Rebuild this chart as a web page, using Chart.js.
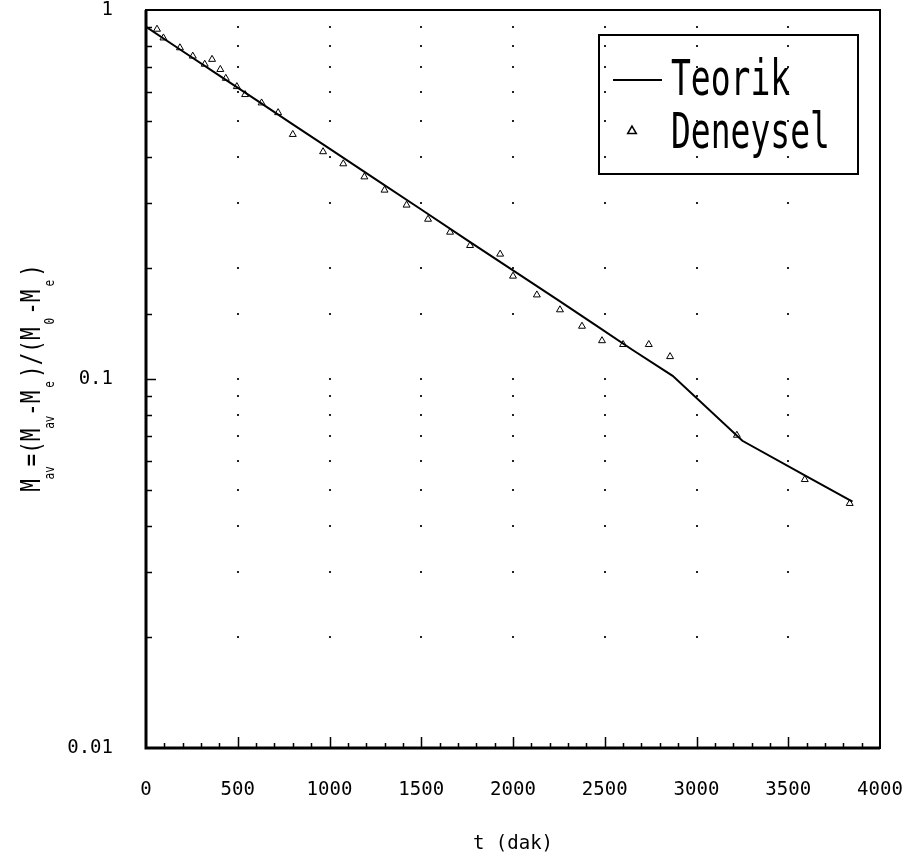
<!DOCTYPE html>
<html>
<head>
<meta charset="utf-8">
<title>Kuruma eğrisi</title>
<script src="https://cdn.jsdelivr.net/npm/chart.js@4.4.1/dist/chart.umd.min.js"></script>
<style>
  html, body { margin: 0; padding: 0; background: #fff; }
  canvas { display: block; }
</style>
</head>
<body>
<canvas id="chart" width="907" height="861"></canvas>
<script>
// Teorik model curve (t in dak, dimensionless moisture ratio)
const teorikT = [0, 200, 400, 600, 800, 1000, 1250, 1500, 1750, 2000, 2250, 2450, 2650, 2870, 3250, 3600, 3850];
const teorikM = [0.90, 0.773, 0.664, 0.571, 0.490, 0.421, 0.348, 0.288, 0.238, 0.197, 0.163, 0.140, 0.120, 0.102, 0.068, 0.0545, 0.0465];

// Deneysel measurements
const deneyT = [60, 95, 185, 255, 320, 360, 405, 435, 495, 540, 630, 720, 800, 965, 1075, 1190, 1300, 1420, 1537, 1657, 1766, 1930, 2000, 2130, 2256, 2376, 2485, 2600, 2740, 2856, 3220, 3590, 3835];
const deneyM = [0.887, 0.84, 0.79, 0.75, 0.713, 0.735, 0.69, 0.653, 0.62, 0.59, 0.56, 0.527, 0.46, 0.413, 0.383, 0.353, 0.325, 0.296, 0.271, 0.250, 0.230, 0.218, 0.19, 0.169, 0.154, 0.139, 0.127, 0.124, 0.124, 0.115, 0.0704, 0.0534, 0.046];

const xTickLabels = ['0', '500', '1000', '1500', '2000', '2500', '3000', '3500', '4000'];
const yTickLabels = ['0.01', '0.1', '1'];
const legendLabels = ['Teorik', 'Deneysel'];

const FONT = '"DejaVu Sans Mono", "Liberation Mono", monospace';
Chart.defaults.font.family = FONT;
Chart.defaults.color = '#000';

function isDecade(v) {
  const l = Math.log10(v);
  return Math.abs(l - Math.round(l)) < 1e-6;
}

// keep end labels from pushing the plot area inwards
function noEdgePadding(s) {
  s.paddingTop = 0;
  s.paddingBottom = 0;
  s.paddingLeft = 0;
  s.paddingRight = 0;
}

// Frame, inward tick marks, dotted grid, legend box and y title
const plotDecor = {
  id: 'plotDecor',
  beforeDatasetsDraw(chart) {
    const { ctx, scales: { x, y } } = chart;
    ctx.save();
    ctx.fillStyle = '#222';
    x.ticks.forEach(xt => {
      if (xt.value % 500 !== 0 || xt.value <= 0 || xt.value >= 4000) return;
      const px = x.getPixelForValue(xt.value);
      y.ticks.forEach(yt => {
        if (yt.value <= 0.01 || yt.value >= 1) return;
        const py = y.getPixelForValue(yt.value);
        ctx.fillRect(Math.round(px) - 1, Math.round(py) - 1, 2, 2);
      });
    });
    ctx.restore();
  },
  afterDatasetsDraw(chart) {
    const { ctx, chartArea: a, scales: { x, y } } = chart;
    ctx.save();
    ctx.strokeStyle = '#000';

    // frame
    ctx.lineWidth = 2;
    ctx.strokeRect(a.left, a.top, a.right - a.left, a.bottom - a.top);
    ctx.lineWidth = 3;
    ctx.beginPath();
    ctx.moveTo(a.left, a.top);
    ctx.lineTo(a.left, a.bottom);
    ctx.lineTo(a.right, a.bottom);
    ctx.stroke();

    // tick marks pointing into the plot
    ctx.lineWidth = 1.5;
    ctx.beginPath();
    x.ticks.forEach(t => {
      if (t.value <= 0 || t.value >= 4000) return;
      const px = Math.round(x.getPixelForValue(t.value)) + 0.5;
      const len = t.value % 500 === 0 ? 11 : 5;
      ctx.moveTo(px, a.bottom);
      ctx.lineTo(px, a.bottom - len);
    });
    y.ticks.forEach(t => {
      if (t.value <= 0.01 || t.value >= 1) return;
      const py = Math.round(y.getPixelForValue(t.value)) + 0.5;
      const len = isDecade(t.value) ? 10 : 6;
      ctx.moveTo(a.left, py);
      ctx.lineTo(a.left + len, py);
    });
    ctx.stroke();

    // legend
    ctx.lineWidth = 2;
    ctx.strokeRect(599, 35, 259, 139);
    ctx.beginPath();
    ctx.moveTo(613, 80);
    ctx.lineTo(662, 80);
    ctx.stroke();
    ctx.lineWidth = 1.5;
    ctx.fillStyle = 'rgba(0,0,0,0)';
    Chart.helpers.drawPoint(ctx, { pointStyle: 'triangle', radius: 5, rotation: 0, borderWidth: 1.5 }, 632, 131);
    ctx.fillStyle = '#000';
    ctx.font = '33px ' + FONT;
    ctx.textAlign = 'left';
    ctx.textBaseline = 'alphabetic';
    [[legendLabels[0], 95], [legendLabels[1], 148]].forEach(([txt, base]) => {
      ctx.save();
      ctx.translate(671, base);
      ctx.scale(1, 1.5);
      ctx.fillText(txt, 0, 0);
      ctx.restore();
    });

    // y title with subscripts
    ctx.save();
    ctx.translate(40, 378);
    ctx.rotate(-Math.PI / 2);
    ctx.scale(1, 1.3);
    ctx.font = '21px ' + FONT;
    const main = 'M =(M -M )/(M -M )';
    const w = ctx.measureText(main).width;
    const cw = w / main.length;
    const x0 = -w / 2;
    ctx.textAlign = 'left';
    ctx.fillText(main, x0, 0);
    ctx.font = '11px ' + FONT;
    ctx.textAlign = 'center';
    [[1, 'av'], [5, 'av'], [8, 'e'], [13, '0'], [16, 'e']].forEach(([i, s]) => {
      ctx.fillText(s, x0 + (i + 0.5) * cw, 11);
    });
    ctx.restore();

    ctx.restore();
  }
};

new Chart(document.getElementById('chart'), {
  type: 'scatter',
  data: {
    datasets: [
      {
        label: legendLabels[0],
        data: teorikT.map((t, i) => ({ x: t, y: teorikM[i] })),
        showLine: true,
        borderColor: '#000',
        borderWidth: 2,
        pointRadius: 0,
        tension: 0
      },
      {
        label: legendLabels[1],
        data: deneyT.map((t, i) => ({ x: t, y: deneyM[i] })),
        showLine: false,
        pointStyle: 'triangle',
        pointRadius: 4,
        borderColor: '#000',
        borderWidth: 1,
        backgroundColor: 'rgba(0,0,0,0)'
      }
    ]
  },
  options: {
    responsive: false,
    devicePixelRatio: 1,
    animation: false,
    layout: { padding: { top: 10, right: 27, left: 0, bottom: 0 } },
    plugins: {
      legend: { display: false },
      tooltip: { enabled: false }
    },
    scales: {
      x: {
        type: 'linear',
        min: 0,
        max: 4000,
        border: { display: false },
        grid: { display: false, drawTicks: false },
        ticks: {
          stepSize: 100,
          maxTicksLimit: 60,
          autoSkip: false,
          maxRotation: 0,
          padding: 31,
          font: { size: 19 },
          color: '#000',
          callback: (v) => (v % 500 === 0 ? xTickLabels[v / 500] : '')
        },
        title: {
          display: true,
          text: 't (dak)',
          font: { size: 19 },
          color: '#000',
          padding: { top: 0, bottom: 6 }
        },
        afterFit: (s) => { s.height = 113; noEdgePadding(s); }
      },
      y: {
        type: 'logarithmic',
        min: 0.01,
        max: 1,
        border: { display: false },
        grid: { display: false, drawTicks: false },
        ticks: {
          autoSkip: false,
          padding: 33,
          font: { size: 19 },
          color: '#000',
          callback: (v) => (isDecade(v) ? yTickLabels[Math.round(Math.log10(v)) + 2] : '')
        },
        afterFit: (s) => { s.width = 146; noEdgePadding(s); }
      }
    }
  },
  plugins: [plotDecor]
});
</script>
</body>
</html>
